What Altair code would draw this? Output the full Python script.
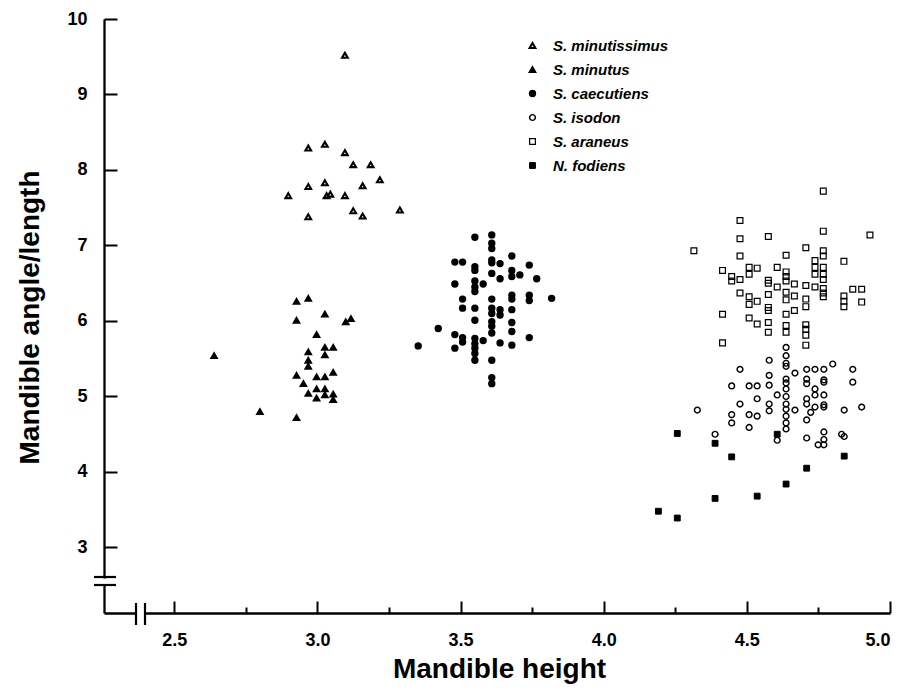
import altair as alt
import pandas as pd

species = ["S. minutissimus", "S. minutus", "S. caecutiens", "S. isodon", "S. araneus", "N. fodiens"]

minutissimus_x = [3.096, 2.968, 3.026, 3.096, 3.125, 3.186, 3.218, 2.968, 3.026, 3.158, 2.898, 3.032, 3.045, 3.096, 3.125, 3.158, 2.968, 3.288]
minutissimus_y = [9.52, 8.29, 8.34, 8.23, 8.07, 8.07, 7.87, 7.78, 7.83, 7.79, 7.66, 7.66, 7.68, 7.66, 7.46, 7.39, 7.38, 7.47]

minutus_x = [2.927, 2.968, 3.026, 2.927, 3.099, 3.117, 2.997, 3.026, 3.055, 3.026, 2.968, 2.968, 2.968, 2.639,
             2.927, 2.997, 3.026, 3.055, 2.951, 2.968, 2.997, 3.026, 3.026, 3.055, 3.055, 2.997, 2.799, 2.927]
minutus_y = [6.26, 6.30, 6.09, 6.01, 5.99, 6.03, 5.82, 5.65, 5.65, 5.55, 5.59, 5.48, 5.40, 5.54,
             5.28, 5.26, 5.26, 5.32, 5.17, 5.04, 5.10, 5.10, 5.02, 5.03, 4.96, 4.98, 4.80, 4.72]

caecutiens_x = [3.550, 3.609, 3.609, 3.609, 3.480, 3.507, 3.550, 3.550, 3.609, 3.609, 3.638, 3.679, 3.740, 3.609,
                3.679, 3.679, 3.638, 3.707, 3.766, 3.480, 3.550, 3.550, 3.550, 3.579, 3.507, 3.609, 3.679, 3.679,
                3.740, 3.740, 3.818, 3.507, 3.550, 3.609, 3.609, 3.638, 3.638, 3.679, 3.550, 3.609, 3.609, 3.679,
                3.422, 3.480, 3.507, 3.507, 3.550, 3.550, 3.579, 3.609, 3.679, 3.740, 3.638, 3.679, 3.352, 3.480,
                3.550, 3.550, 3.550, 3.609, 3.609, 3.609]
caecutiens_y = [7.11, 7.14, 7.03, 6.96, 6.78, 6.78, 6.72, 6.67, 6.81, 6.77, 6.76, 6.86, 6.74, 6.63,
                6.67, 6.59, 6.56, 6.61, 6.56, 6.49, 6.53, 6.45, 6.39, 6.49, 6.29, 6.29, 6.34, 6.29,
                6.34, 6.27, 6.30, 6.17, 6.17, 6.17, 6.10, 6.15, 6.08, 6.15, 6.01, 5.99, 5.93, 5.98,
                5.90, 5.82, 5.78, 5.72, 5.77, 5.70, 5.74, 5.84, 5.86, 5.78, 5.71, 5.68, 5.67, 5.64,
                5.64, 5.57, 5.48, 5.48, 5.25, 5.17]

isodon_x = [4.637, 4.637, 4.637, 4.637, 4.578, 4.476, 4.578, 4.668, 4.709, 4.738, 4.769, 4.800, 4.870, 4.870,
            4.637, 4.637, 4.637, 4.709, 4.709, 4.769, 4.769, 4.447, 4.508, 4.536, 4.578, 4.738, 4.738, 4.769,
            4.606, 4.637, 4.536, 4.476, 4.578, 4.637, 4.709, 4.709, 4.738, 4.769, 4.769, 4.578, 4.637, 4.668,
            4.327, 4.840, 4.901, 4.447, 4.447, 4.508, 4.536, 4.637, 4.637, 4.637, 4.723, 4.709, 4.508, 4.389,
            4.606, 4.709, 4.769, 4.769, 4.749, 4.769, 4.831, 4.840]
isodon_y = [5.65, 5.54, 5.44, 5.40, 5.48, 5.36, 5.28, 5.31, 5.36, 5.36, 5.36, 5.43, 5.36, 5.19,
            5.23, 5.18, 5.10, 5.23, 5.17, 5.22, 5.19, 5.14, 5.14, 5.14, 5.15, 5.10, 5.02, 5.02,
            5.02, 5.00, 4.97, 4.90, 4.90, 4.90, 4.97, 4.90, 4.86, 4.89, 4.86, 4.81, 4.83, 4.82,
            4.82, 4.82, 4.86, 4.76, 4.65, 4.76, 4.74, 4.74, 4.65, 4.57, 4.79, 4.69, 4.59, 4.50,
            4.42, 4.45, 4.53, 4.43, 4.36, 4.36, 4.50, 4.47]

araneus_x = [4.767, 4.476, 4.767, 4.930, 4.476, 4.575, 4.315, 4.476, 4.637, 4.706, 4.767, 4.767, 4.738, 4.839,
             4.415, 4.508, 4.536, 4.606, 4.738, 4.767, 4.738, 4.767, 4.508, 4.447, 4.447, 4.476, 4.637, 4.637,
             4.637, 4.575, 4.767, 4.666, 4.606, 4.706, 4.738, 4.767, 4.767, 4.767, 4.575, 4.476, 4.508, 4.536,
             4.508, 4.575, 4.637, 4.637, 4.666, 4.706, 4.706, 4.839, 4.839, 4.839, 4.870, 4.901, 4.901, 4.575,
             4.575, 4.637, 4.666, 4.415, 4.508, 4.536, 4.575, 4.575, 4.637, 4.637, 4.706, 4.706, 4.706, 4.415,
             4.706]
araneus_y = [7.72, 7.33, 7.19, 7.14, 7.09, 7.12, 6.93, 6.86, 6.87, 6.97, 6.93, 6.86, 6.80, 6.79,
             6.67, 6.71, 6.70, 6.71, 6.71, 6.71, 6.62, 6.62, 6.62, 6.59, 6.53, 6.55, 6.65, 6.59,
             6.53, 6.54, 6.55, 6.49, 6.45, 6.47, 6.45, 6.43, 6.37, 6.32, 6.50, 6.37, 6.32, 6.26,
             6.22, 6.35, 6.38, 6.28, 6.33, 6.29, 6.19, 6.33, 6.26, 6.19, 6.42, 6.42, 6.25, 6.18,
             6.14, 6.09, 6.14, 6.09, 6.04, 5.96, 5.98, 5.85, 5.94, 5.85, 5.95, 5.89, 5.81, 5.71,
             5.68]

fodiens_x = [4.257, 4.389, 4.447, 4.606, 4.709, 4.637, 4.536, 4.389, 4.191, 4.257, 4.840]
fodiens_y = [4.51, 4.38, 4.20, 4.50, 4.05, 3.84, 3.68, 3.65, 3.48, 3.39, 4.21]

x_tick_values = [2.5, 2.75, 3.0, 3.25, 3.5, 3.75, 4.0, 4.25, 4.5, 4.75, 5.0]
x_label_values = [2.5, 3.0, 3.5, 4.0, 4.5, 5.0]
y_tick_values = [3, 4, 5, 6, 7, 8, 9, 10]

# styles
shapes = ["triangle-up", "triangle-up", "circle", "circle", "square", "square"]
fills = ["transparent", "black", "black", "transparent", "transparent", "black"]
strokes = ["black"] * 6
sizes = [32, 34, 32, 26, 32, 42]
stroke_widths = [2.1, 1.0, 0.8, 2.0, 2.0, 0.8]

series = [
    (species[0], minutissimus_x, minutissimus_y),
    (species[1], minutus_x, minutus_y),
    (species[2], caecutiens_x, caecutiens_y),
    (species[3], isodon_x, isodon_y),
    (species[4], araneus_x, araneus_y),
    (species[5], fodiens_x, fodiens_y),
]
rows = []
for name, xs, ys in series:
    for xv, yv in zip(xs, ys):
        rows.append({"species": name, "height": xv, "ratio": yv})
df = pd.DataFrame(rows)

W, H = 786, 594
FONT = "Liberation Sans"

xscale = alt.Scale(domain=[2.2545, 5.0], nice=False, zero=False)
yscale = alt.Scale(domain=[2.132, 10.0], nice=False, zero=False)

legend = alt.Legend(
    title=None, orient="none", legendX=421, legendY=19, padding=0,
    labelFont=FONT, labelFontSize=15, labelFontWeight="bold", labelFontStyle="italic",
    labelColor="black", labelOffset=13, rowPadding=8,
)

points = alt.Chart(df).mark_point(filled=True, opacity=1).encode(
    x=alt.X("height:Q", scale=xscale, axis=alt.Axis(
        orient="bottom", values=x_label_values, format=".1f", ticks=False, domain=False,
        grid=False, labelFont=FONT, labelFontSize=18, labelFontWeight="bold", labelColor="black",
        labelPadding=18, labelBaseline="top",
        title="Mandible height", titleFont=FONT, titleFontSize=28, titleFontWeight="bold",
        titleColor="black", titleY=56, titleX=395, titleBaseline="middle", titleAlign="center")),
    y=alt.Y("ratio:Q", scale=yscale, axis=alt.Axis(
        orient="left", values=y_tick_values, format="d", ticks=False, domain=False,
        grid=False, labelFont=FONT, labelFontSize=18, labelFontWeight="bold", labelColor="black",
        labelPadding=17, labelBaseline="middle",
        title="Mandible angle/length", titleFont=FONT, titleFontSize=28, titleFontWeight="bold",
        titleColor="black", titleX=-74, titleY=298, titleAngle=270, titleBaseline="middle",
        titleAlign="center")),
    shape=alt.Shape("species:N", scale=alt.Scale(domain=species, range=shapes), legend=legend),
    fill=alt.Fill("species:N", scale=alt.Scale(domain=species, range=fills), legend=legend),
    stroke=alt.Stroke("species:N", scale=alt.Scale(domain=species, range=strokes), legend=legend),
    size=alt.Size("species:N", scale=alt.Scale(domain=species, range=sizes), legend=legend),
    strokeWidth=alt.StrokeWidth("species:N", scale=alt.Scale(domain=species, range=stroke_widths), legend=legend),
)

inner_axes = alt.Chart(df).mark_point(opacity=0, size=1).encode(
    x=alt.X("height:Q", scale=xscale, axis=alt.Axis(
        orient="top", offset=-H, values=x_tick_values, labels=False, title=None, grid=False,
        domain=True, domainColor="black", domainWidth=2.3, tickColor="black", tickWidth=2,
        tickSize={"condition": {"test": "datum.value % 0.5 === 0", "value": 12}, "value": 6})),
    y=alt.Y("ratio:Q", scale=yscale, axis=alt.Axis(
        orient="right", offset=-W, values=y_tick_values, labels=False, title=None, grid=False,
        domain=True, domainColor="black", domainWidth=2.3, tickColor="black", tickWidth=2,
        tickSize=13)),
)

one = pd.DataFrame({"k": [0]})
gap_y = alt.Chart(one).mark_rect(color="white").encode(
    x=alt.value(-4), x2=alt.value(4), y=alt.value(559.5), y2=alt.value(565))
gap_x = alt.Chart(one).mark_rect(color="white").encode(
    x=alt.value(33), x2=alt.value(40), y=alt.value(590), y2=alt.value(598))
brk_y1 = alt.Chart(one).mark_rule(color="black", strokeWidth=2.2).encode(
    x=alt.value(-10), x2=alt.value(12), y=alt.value(558))
brk_y2 = alt.Chart(one).mark_rule(color="black", strokeWidth=2.2).encode(
    x=alt.value(-10), x2=alt.value(12), y=alt.value(566))
brk_x1 = alt.Chart(one).mark_rule(color="black", strokeWidth=2.2).encode(
    x=alt.value(32), y=alt.value(584), y2=alt.value(606))
brk_x2 = alt.Chart(one).mark_rule(color="black", strokeWidth=2.2).encode(
    x=alt.value(41), y=alt.value(584), y2=alt.value(606))

chart = alt.layer(
    inner_axes, points, gap_y, gap_x, brk_y1, brk_y2, brk_x1, brk_x2
).resolve_axis(
    x="independent", y="independent"
).properties(
    width=W, height=H,
    padding={"left": 96, "top": 11, "right": 10, "bottom": 75},
    autosize=alt.AutoSizeParams(type="none"),
    background="white",
).configure_view(stroke=None)

chart.save("out.html", embed_options={"renderer": "svg", "actions": False})
